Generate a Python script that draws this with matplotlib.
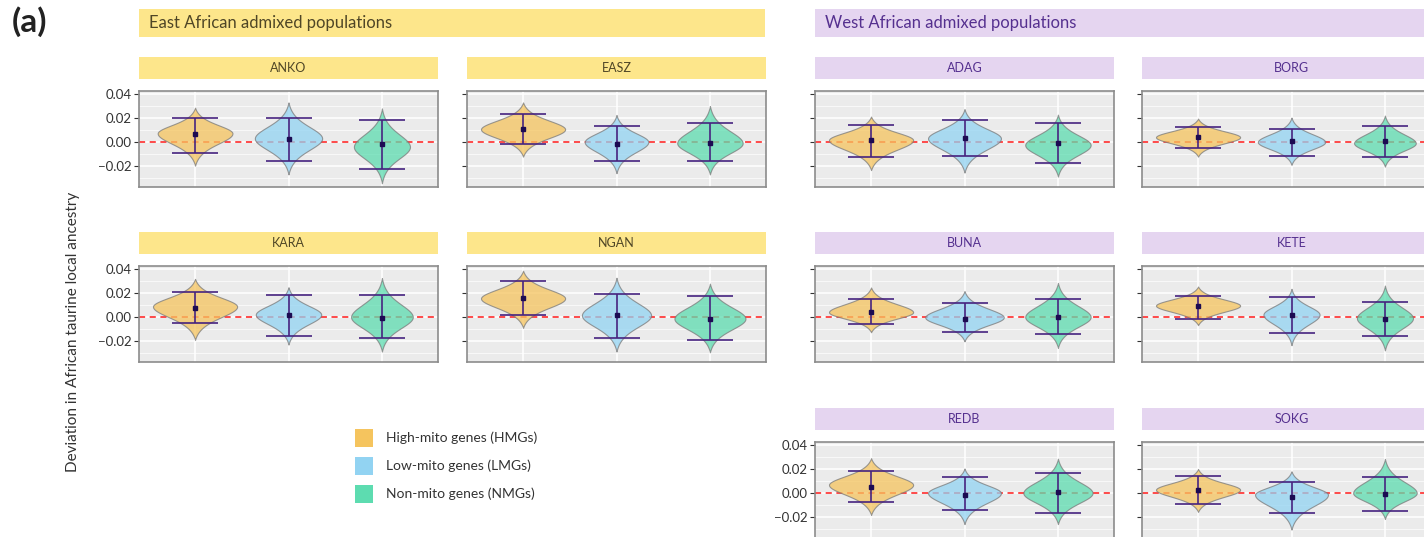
import numpy as np
import matplotlib
matplotlib.use("Agg")
import matplotlib.pyplot as plt
from matplotlib.patches import Rectangle

plt.rcParams['font.family'] = ['Lato', 'DejaVu Sans']

# populations, in panel order
panels = ['ANKO', 'EASZ', 'KARA', 'NGAN', 'ADAG', 'BORG', 'BUNA', 'KETE', 'REDB', 'SOKG']
groups = ['High-mito genes (HMGs)', 'Low-mito genes (LMGs)', 'Non-mito genes (NMGs)']

# per panel: HMG, LMG, NMG
means = [[0.0064, 0.0022, -0.0019], [0.0106, -0.0014, -0.0011],
         [0.0073, 0.0016, -0.0005], [0.0160, 0.0014, -0.0014],
         [0.0016, 0.0035, -0.0011], [0.0040, 0.0005, 0.0005],
         [0.0043, -0.0014, 0.0000], [0.0092, 0.0019, -0.0014],
         [0.0054, -0.0014, 0.0005], [0.0024, -0.0035, -0.0011]]
ci_high = [[0.0203, 0.0197, 0.0180], [0.0236, 0.0136, 0.0156],
           [0.0210, 0.0182, 0.0180], [0.0300, 0.0193, 0.0171],
           [0.0141, 0.0185, 0.0160], [0.0127, 0.0110, 0.0135],
           [0.0154, 0.0116, 0.0154], [0.0178, 0.0165, 0.0124],
           [0.0180, 0.0131, 0.0163], [0.0140, 0.0092, 0.0135]]
ci_low = [[-0.0092, -0.0158, -0.0228], [-0.0019, -0.0160, -0.0156],
          [-0.0054, -0.0158, -0.0171], [0.0014, -0.0171, -0.0193],
          [-0.0125, -0.0114, -0.0174], [-0.0054, -0.0114, -0.0122],
          [-0.0062, -0.0127, -0.0140], [-0.0016, -0.0135, -0.0157],
          [-0.0074, -0.0144, -0.0163], [-0.0089, -0.0170, -0.0149]]
# distribution extent, mode and relative peak width of each violin
dist_max = [[0.0286, 0.0330, 0.0280], [0.0330, 0.0225, 0.0300],
            [0.0318, 0.0248, 0.0324], [0.0386, 0.0327, 0.0278],
            [0.0212, 0.0274, 0.0228], [0.0195, 0.0203, 0.0220],
            [0.0246, 0.0216, 0.0284], [0.0254, 0.0235, 0.0262],
            [0.0290, 0.0204, 0.0286], [0.0200, 0.0181, 0.0284]]
dist_min = [[-0.0197, -0.0270, -0.0344], [-0.0122, -0.0260, -0.0270],
            [-0.0190, -0.0230, -0.0288], [-0.0090, -0.0288, -0.0294],
            [-0.0234, -0.0255, -0.0288], [-0.0122, -0.0190, -0.0205],
            [-0.0127, -0.0203, -0.0257], [-0.0068, -0.0235, -0.0278],
            [-0.0183, -0.0259, -0.0259], [-0.0157, -0.0305, -0.0216]]
modes = [[0.0072, 0.0030, -0.0040], [0.0106, 0.0000, -0.0010],
         [0.0087, 0.0020, 0.0000], [0.0155, 0.0014, -0.0014],
         [0.0016, 0.0030, -0.0025], [0.0040, 0.0000, -0.0010],
         [0.0040, -0.0003, 0.0000], [0.0095, 0.0020, -0.0010],
         [0.0068, 0.0000, 0.0000], [0.0027, -0.0014, 0.0000]]
peak_width = [[0.40, 0.36, 0.30], [0.45, 0.34, 0.35],
              [0.45, 0.35, 0.33], [0.45, 0.37, 0.38],
              [0.45, 0.39, 0.35], [0.45, 0.36, 0.33],
              [0.45, 0.42, 0.35], [0.45, 0.30, 0.30],
              [0.45, 0.39, 0.37], [0.45, 0.39, 0.34]]

fill_colors = ['#f5c45e', '#92d3f2', '#5ddcb0']
east_fill, west_fill = '#fde68b', '#e5d5f0'
east_text, west_text = '#4f4626', '#55308f'

W, H = 1424, 537
fig = plt.figure(figsize=(W / 100, H / 100), dpi=100)


def fig_rect(x0, y0, w, h):
    # pixel box (top-left origin) -> figure fraction rect
    return [x0 / W, 1 - (y0 + h) / H, w / W, h / H]


def violin_stats(lo, hi, mode, mean):
    y = np.linspace(lo, hi, 300)
    d = np.where(y >= mode, (y - mode) / (hi - mode), (mode - y) / (mode - lo))
    k = 2.15
    edge = 1 / np.cosh(k) ** 2
    g = (1 / np.cosh(k * d) ** 2 - edge) / (1 - edge)
    return dict(coords=y, vals=np.clip(g, 0, None), mean=mean, median=mean,
                min=lo, max=hi)


col_x = [139, 467, 815, 1142]
row_y = [91, 266, 442]
ax_w, ax_h = 299, 96
strip_h = 22
# (row, col, labelled y axis, east/west)
layout = [(0, 0, True, 'E'), (0, 1, False, 'E'), (1, 0, True, 'E'), (1, 1, False, 'E'),
          (0, 2, False, 'W'), (0, 3, False, 'W'), (1, 2, False, 'W'), (1, 3, False, 'W'),
          (2, 2, True, 'W'), (2, 3, False, 'W')]

pos = np.arange(3)
for i, name in enumerate(panels):
    r, c, ylab, side = layout[i]
    ax = fig.add_axes(fig_rect(col_x[c], row_y[r], ax_w, ax_h))
    ax.set_facecolor('#ebebeb')
    ax.set_xlim(-0.6, 2.6)
    ax.set_ylim(-0.0375, 0.0425)
    ax.set_yticks([-0.02, 0.0, 0.02, 0.04])
    ax.set_yticks([-0.03, -0.01, 0.01, 0.03], minor=True)
    ax.set_xticks(pos)
    ax.grid(True, which='major', color='white', lw=1.1, zorder=0)
    ax.grid(True, which='minor', axis='y', color='white', lw=0.5, zorder=0)
    ax.set_axisbelow(True)
    ax.tick_params(axis='x', length=0, labelbottom=False)
    ax.tick_params(axis='y', which='major', length=3.5, width=0.8, color='#333333',
                   labelsize=9.5, labelcolor='#333333', pad=2)
    ax.tick_params(axis='y', which='minor', length=0)
    if ylab:
        ax.set_yticklabels(['\u22120.02', '0.00', '0.02', '0.04'])
    else:
        ax.tick_params(axis='y', labelleft=False)
    for sp in ax.spines.values():
        sp.set_color('#8c8c8c')
        sp.set_linewidth(1.2)

    ax.axhline(0, color='#ff1a1a', lw=1.1, ls=(0, (4, 3)), zorder=1)

    stats = [violin_stats(dist_min[i][j], dist_max[i][j], modes[i][j], means[i][j])
             for j in range(3)]
    vp = ax.violin(stats, positions=pos, widths=[2 * w for w in peak_width[i]],
                   showextrema=False)
    for body, col in zip(vp['bodies'], fill_colors):
        body.set_facecolor(col)
        body.set_edgecolor('#7a7a7a')
        body.set_linewidth(0.8)
        body.set_alpha(0.75)
        body.set_zorder(2)

    m = np.array(means[i])
    yerr = [m - np.array(ci_low[i]), np.array(ci_high[i]) - m]
    ax.errorbar(pos, m, yerr=yerr, fmt='s', ms=3.0, mfc='#1c0b52', mec='#1c0b52',
                ecolor='#46237f', elinewidth=1.2, capsize=16.5, capthick=1.2, zorder=3)

    # facet strip
    fc, tc = (east_fill, east_text) if side == 'E' else (west_fill, west_text)
    x0, y0 = col_x[c], row_y[r] - 34
    fig.add_artist(Rectangle((x0 / W, 1 - (y0 + strip_h) / H), ax_w / W, strip_h / H,
                             transform=fig.transFigure, facecolor=fc, edgecolor='none'))
    fig.text((x0 + ax_w / 2) / W, 1 - (y0 + strip_h / 2) / H, name, ha='center',
             va='center', fontsize=9, color=tc)

# region headers
for x0, x1, label, fc, tc in [(139, 765, 'East African admixed populations', east_fill, east_text),
                              (815, 1440, 'West African admixed populations', west_fill, west_text)]:
    fig.add_artist(Rectangle((x0 / W, 1 - 37 / H), (x1 - x0) / W, 28 / H,
                             transform=fig.transFigure, facecolor=fc, edgecolor='none'))
    fig.text((x0 + 10) / W, 1 - 23 / H, label, ha='left', va='center',
             fontsize=12, color=tc)

fig.text(12 / W, 1 - 22 / H, '(a)', ha='left', va='center', fontsize=24,
         fontweight='bold', color='#222222')
fig.text(73 / W, 1 - 332 / H, 'Deviation in African taurine local ancestry',
         rotation=90, ha='center', va='center', fontsize=11, color='#333333')

# legend
for k, (label, col) in enumerate(zip(groups, fill_colors)):
    yc = 438 + 28 * k
    fig.add_artist(Rectangle((355 / W, 1 - (yc + 9) / H), 18 / W, 18 / H,
                             transform=fig.transFigure, facecolor=col, edgecolor='none'))
    fig.text(386 / W, 1 - yc / H, label, ha='left', va='center', fontsize=10,
             color='#333333')

fig.savefig('out.png', dpi=100)
